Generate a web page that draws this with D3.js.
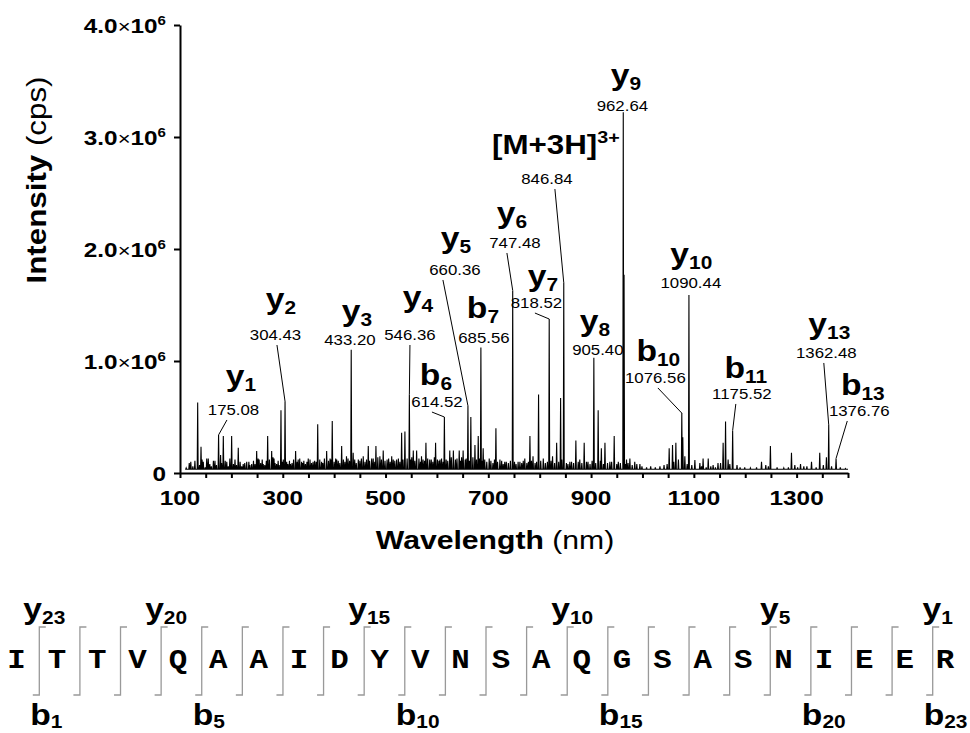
<!DOCTYPE html>
<html>
<head>
<meta charset="utf-8">
<title>MS/MS spectrum</title>
<style>
  body { margin: 0; background: #fff; font-family: Arial, "Liberation Sans", sans-serif; }
  svg text { fill: #000; }
  .spec { fill: none; stroke: #000; stroke-width: 1.1px; }
  .axis path, .axis line { stroke: #000; stroke-width: 2px; fill: none; }
  .conn { stroke: #000; stroke-width: 1px; }
  .cut { fill: none; stroke: #999; stroke-width: 1.3px; }
  .res { font-family: "Courier New", "Liberation Mono", monospace; font-weight: bold; font-size: 28px; }
</style>
</head>
<body>
<div id="chart"></div>
<script src="https://d3js.org/d3.v7.min.js"></script>
<script>
// axis ticks
var yTicks = [0, 1e6, 2e6, 3e6, 4e6];
var yTickLabels = ["0", "1.0", "2.0", "3.0", "4.0"];
var xTickLabels = [100, 300, 500, 700, 900, 1100, 1300];
var xMinorStep = 50;

// labelled fragment peaks [m/z, intensity]
var ionMz  = [175.08, 304.43, 433.20, 546.36, 614.52, 660.36, 685.56, 747.48, 818.52, 846.84, 905.40, 962.64, 1076.56, 1090.44, 1175.52, 1362.48, 1376.76];
var ionInt = [3.4e5, 6.4e5, 1.10e6, 7.0e5, 5.0e5, 6.0e5, 1.12e6, 1.63e6, 1.375e6, 1.70e6, 1.03e6, 3.22e6, 5.35e5, 1.59e6, 3.8e5, 4.3e5, 1.3e5];
var ionName = ["y", "y", "y", "y", "b", "y", "b", "y", "y", "[M+3H]", "y", "y", "b", "y", "b", "y", "b"];
var ionSub  = ["1", "2", "3", "4", "6", "5", "7", "6", "7", "", "8", "9", "10", "10", "11", "13", "13"];
var ionSup  = ["", "", "", "", "", "", "", "", "", "3+", "", "", "", "", "", "", ""];

// other peaks
var otherPeaks = [
  [134.4, 6.3e5], [140.9, 2.35e5], [145.3, 1.0e5], [152, 1.3e5], [158, 8e4], [168, 1.1e5], [179, 1.6e5],
  [184.3, 3.3e5], [191, 1.0e5], [200.5, 3.3e5], [207, 1.2e5], [213.4, 2.26e5], [223, 8e4], [229.8, 1.0e5],
  [239.5, 8e4], [249.2, 1.96e5], [254, 1.2e5], [262, 8e4], [270.6, 3.3e5], [278.4, 1.96e5], [283, 1.3e5],
  [288, 8e4], [296.5, 5.6e5], [307.6, 1.0e5], [315, 8e4], [325, 1.96e5], [330, 1.2e5], [336.7, 1.0e5],
  [349.6, 1.3e5], [359, 1.0e5], [368, 4.35e5], [375.6, 1.0e5], [385.4, 1.96e5], [392, 1.3e5], [396.3, 4.64e5],
  [405, 1.2e5], [414.6, 2.4e5], [424, 1.5e5], [437, 1.8e5], [447, 1.2e5], [456.6, 1.5e5], [466.4, 2.4e5],
  [473, 1.3e5], [481.3, 2.4e5], [489, 1.5e5], [495.5, 2.0e5], [503, 1.2e5], [512, 1.5e5], [521.6, 1.2e5],
  [531.3, 3.6e5], [537.7, 3.7e5], [554, 2.0e5], [560.5, 2.0e5], [570, 1.5e5], [578.6, 2.7e5], [586, 1.2e5],
  [597.4, 2.7e5], [606, 1.2e5], [625, 2.0e5], [632, 2.0e5], [643.4, 2.0e5], [651, 2.0e5], [666, 5.0e5],
  [674, 2.5e5], [680.4, 3.3e5], [690, 2.2e5], [701.8, 1.3e5], [714.8, 4.0e5], [722.6, 1.2e5], [732, 1.0e5],
  [761.5, 1.0e5], [771, 1.3e5], [781, 3.3e5], [787, 1.5e5], [797.8, 7.0e5], [807, 1.3e5], [825, 1.5e5],
  [833, 2.7e5], [840.7, 6.7e5], [858.7, 1.0e5], [870.4, 2.9e5], [878, 1.2e5], [886.6, 2.7e5], [894, 1.0e5],
  [913.8, 5.6e5], [920, 2.2e5], [927, 2.7e5], [936.6, 1.0e5], [945, 3.3e5], [953, 1.0e5], [964.2, 1.77e6],
  [969, 1.2e5], [975.5, 1.3e5], [985, 1.0e5], [995, 8e4], [1052, 2.2e5], [1058.5, 2.5e5], [1065, 2.7e5],
  [1078.5, 3.2e5], [1082.5, 1.5e5], [1102, 1.15e5], [1111.7, 9e4], [1118, 1.3e5], [1128, 1.3e5], [1137.5, 7e4],
  [1147, 9e4], [1157, 2.7e5], [1161.7, 4.6e5], [1166.7, 1.2e5], [1184, 7e4], [1199, 5e4], [1231.7, 1.0e5],
  [1240, 7e4], [1249, 2.4e5], [1290, 1.8e5], [1296.5, 7e4], [1307.6, 8e4], [1314, 6e4], [1329, 1.0e5],
  [1345, 1.8e5], [1358, 1.4e5]
];

// low-level noise peaks
var grass = [
  [112, 4.5e4], [118, 9e4], [121, 1.0e5], [125, 6e4], [129, 1.1e5], [138, 7e4], [143, 1.2e5], [149, 5e4],
  [155, 1.3e5], [161, 6e4], [165, 1.1e5], [171, 7e4], [181, 9e4], [188, 1.1e5], [194, 6e4], [197, 1.3e5],
  [204, 8e4], [210, 7e4], [217, 1.0e5], [220, 6e4], [226, 9e4], [234, 1.0e5], [236, 7e4], [243, 1.1e5],
  [246, 8e4], [252, 1.3e5], [257, 9e4], [260, 1.2e5], [265, 7e4], [268, 1.1e5], [274, 1.2e5], [281, 1.4e5],
  [285, 9e4], [291, 1.1e5], [293, 7e4], [299, 1.0e5], [301, 1.2e5], [310, 8e4], [313, 1.1e5], [318, 9e4],
  [321, 1.2e5], [328, 1.0e5], [333, 1.3e5], [339, 9e4], [341, 1.1e5], [344, 8e4], [347, 1.0e5], [353, 1.2e5],
  [356, 9e4], [362, 1.1e5], [365, 1.0e5], [372, 1.2e5], [378, 9e4], [381, 1.3e5], [389, 1.1e5], [394, 1.2e5],
  [400, 1.0e5], [403, 1.3e5], [408, 1.1e5], [411, 9e4], [418, 1.2e5], [421, 1.0e5], [427, 1.3e5], [430, 1.1e5],
  [440, 1.2e5], [443, 9e4], [450, 1.1e5], [453, 1.3e5], [460, 1.0e5], [463, 1.2e5], [469, 1.1e5], [476, 1.3e5],
  [479, 1.0e5], [485, 1.4e5], [492, 1.2e5], [499, 1.1e5], [506, 1.3e5], [509, 1.0e5], [515, 1.2e5], [518, 1.1e5],
  [525, 1.3e5], [528, 1.0e5], [534, 1.2e5], [542, 1.3e5], [549, 1.2e5], [551, 1.4e5], [557, 1.1e5], [565, 1.3e5],
  [568, 1.0e5], [573, 1.2e5], [576, 1.1e5], [582, 1.3e5], [589, 1.2e5], [592, 1.0e5], [595, 1.4e5], [601, 1.2e5],
  [604, 1.1e5], [609, 1.3e5], [612, 1.0e5], [618, 1.2e5], [621, 1.1e5], [628, 1.4e5], [636, 1.2e5], [639, 1.3e5],
  [646, 1.1e5], [648, 1.4e5], [655, 1.2e5], [657, 1.3e5], [663, 1.1e5], [670, 1.4e5], [677, 1.2e5], [683, 1.3e5],
  [688, 1.1e5], [693, 1.2e5], [697, 1.0e5], [705, 1.1e5], [709, 9e4], [712, 1.2e5], [718, 1.0e5], [726, 1.1e5],
  [729, 8e4], [735, 1.0e5], [739, 9e4], [743, 1.1e5], [751, 1.0e5], [754, 8e4], [758, 1.0e5], [765, 9e4],
  [768, 1.1e5], [775, 9e4], [778, 1.0e5], [784, 1.1e5], [791, 9e4], [794, 1.0e5], [802, 1.1e5], [811, 9e4],
  [815, 1.0e5], [822, 1.1e5], [829, 9e4], [837, 1.0e5], [843, 1.2e5], [852, 9e4], [855, 8e4], [862, 1.0e5],
  [866, 9e4], [875, 1.0e5], [882, 9e4], [891, 1.0e5], [898, 8e4], [902, 1.1e5], [909, 9e4], [918, 1.1e5],
  [924, 8e4], [932, 9e4], [940, 1.0e5], [950, 8e4], [957, 9e4], [967, 8e4], [972, 9e4], [980, 7e4],
  [989, 8e4], [999, 6e4], [1008, 5e4], [1016, 6e4], [1025, 5e4], [1034, 6e4], [1042, 7e4], [1048, 8e4],
  [1061, 1.0e5], [1070, 1.2e5], [1087, 8e4], [1096, 7e4], [1115, 6e4], [1124, 5e4], [1133, 6e4], [1142, 5e4],
  [1152, 9e4], [1170, 8e4], [1190, 5e4], [1210, 4.5e4], [1222, 5e4], [1245, 6e4], [1262, 5e4], [1275, 4.5e4],
  [1284, 5e4], [1302, 5e4], [1320, 6e4], [1338, 5e4], [1352, 7e4], [1368, 6e4], [1385, 5e4], [1395, 4e4]
];
var baseLevel = 3.3e4;
var specStart = 110, specEnd = 1400;

// where the ion labels sit, in data units: value text centre/baseline, name centre/baseline, leader start
var ionLabelAt = [
  {vx: 204.1, vy: 5.18e5, nx: 218.7, ny: 7.75e5, cx: 191.4},
  {vx: 285.8, vy: 1.1875e6, nx: 296.5, ny: 1.46e6, cx: 288.7},
  {vx: 430.7, vy: 1.143e6, nx: 444.4, ny: 1.355e6, cx: null},
  {vx: 547.5, vy: 1.1875e6, nx: 563.0, ny: 1.485e6, cx: 547.5},
  {vx: 600.0, vy: 5.89e5, nx: 598.1, ny: 7.9e5, cx: 590.3},
  {vx: 635.0, vy: 1.768e6, nx: 637.0, ny: 2.005e6, cx: 611.7},
  {vx: 691.4, vy: 1.161e6, nx: 689.5, ny: 1.38e6, cx: null},
  {vx: 751.8, vy: 2.009e6, nx: 745.9, ny: 2.235e6, cx: 736.2},
  {vx: 793.6, vy: 1.473e6, nx: 806.2, ny: 1.67e6, cx: 790.7},
  {vx: 814.0, vy: 2.580e6, nx: 831.5, ny: 2.845e6, cx: 829.6},
  {vx: 913.2, vy: 1.054e6, nx: 907.4, ny: 1.265e6, cx: null},
  {vx: 960.9, vy: 3.232e6, nx: 967.7, ny: 3.465e6, cx: null},
  {vx: 1025.1, vy: 8.04e5, nx: 1030.9, ny: 1.0e6, cx: 1030.0},
  {vx: 1094.2, vy: 1.652e6, nx: 1095.1, ny: 1.87e6, cx: null},
  {vx: 1193.4, vy: 6.61e5, nx: 1201.2, ny: 8.5e5, cx: 1181.7},
  {vx: 1357.8, vy: 1.027e6, nx: 1363.6, ny: 1.245e6, cx: 1352.9},
  {vx: 1422.0, vy: 5.09e5, nx: 1428.8, ny: 7.0e5, cx: 1398.6}
];

// peptide sequence and observed fragments
var residues = "ITTVQAAIDYVNSAQGSASNIEER".split("");
var yFrags = [23, 20, 15, 10, 5, 1];
var bFrags = [1, 5, 10, 15, 20, 23];

var width = 970, height = 733;
var SX = 1.16; // glyphs in the figure are a bit wider than Arial

var svg = d3.select("#chart").append("svg")
  .attr("width", width)
  .attr("height", height);

var x = d3.scaleLinear().domain([100, 1400]).range([180, 848]);
var y = d3.scaleLinear().domain([0, 4e6]).range([473, 25]);

function place(sel, px, py, rot) {
  return sel.attr("transform", "translate(" + px + "," + py + ")" + (rot ? " rotate(" + rot + ")" : "") + " scale(" + SX + ",1)");
}

// spectrum trace
var peaks = [];
ionMz.forEach(function(m, i) { peaks.push([m, ionInt[i]]); });
peaks = peaks.concat(otherPeaks, grass).sort(function(a, b) { return a[0] - b[0]; });
var hw = 0.9;
var pts = [[specStart, baseLevel]];
peaks.forEach(function(p) {
  pts.push([p[0] - hw, baseLevel], [p[0], p[1]], [p[0] + hw, baseLevel]);
});
pts.push([specEnd, baseLevel]);

var line = d3.line().x(function(d) { return x(d[0]); }).y(function(d) { return y(d[1]); });
svg.append("path").datum(pts).attr("class", "spec").attr("d", line);

// axes
var xAxis = d3.axisBottom(x)
  .tickValues(d3.range(100, 1401, xMinorStep))
  .tickSize(5).tickSizeOuter(0).tickFormat("");
svg.append("g").attr("class", "axis").attr("transform", "translate(0," + y(0) + ")").call(xAxis);

var yAxis = d3.axisLeft(y).tickValues(yTicks).tickSize(6).tickSizeOuter(0).tickFormat("");
svg.append("g").attr("class", "axis").attr("transform", "translate(" + x(100) + ",0)").call(yAxis);

// x tick labels
xTickLabels.forEach(function(v) {
  place(svg.append("text"), x(v), 505)
    .attr("text-anchor", "middle")
    .style("font-size", "21px").style("font-weight", "bold")
    .text(v);
});

// y tick labels
yTicks.forEach(function(v, i) {
  var t = place(svg.append("text"), 166, y(v) + 7.5)
    .attr("text-anchor", "end")
    .style("font-size", "21px").style("font-weight", "bold");
  if (v === 0) { t.text(yTickLabels[i]); return; }
  t.append("tspan").text(yTickLabels[i]);
  t.append("tspan").style("font-weight", "normal").style("font-size", "19px").text("\u00d7");
  t.append("tspan").text("10");
  t.append("tspan").attr("dy", -8).style("font-size", "13px").text("6");
});

// axis titles
var xt = place(svg.append("text"), 495, 549).attr("text-anchor", "middle").style("font-size", "26px");
xt.append("tspan").style("font-weight", "bold").text("Wavelength");
xt.append("tspan").text(" (nm)");

var yt = place(svg.append("text"), 46, 180, -90).attr("text-anchor", "middle").style("font-size", "27px");
yt.append("tspan").style("font-weight", "bold").text("Intensity");
yt.append("tspan").text(" (cps)");

// ion annotations
ionMz.forEach(function(m, i) {
  var a = ionLabelAt[i];
  if (a.cx !== null) {
    svg.append("line").attr("class", "conn")
      .attr("x1", x(a.cx)).attr("y1", y(a.vy) + 5)
      .attr("x2", x(m)).attr("y2", y(ionInt[i]));
  }
  place(svg.append("text"), x(a.vx), y(a.vy))
    .attr("text-anchor", "middle").style("font-size", "14.5px")
    .text(m.toFixed(2));
  var isM = ionSup[i] !== "";
  var t = place(svg.append("text"), x(a.nx), y(a.ny))
    .attr("text-anchor", "middle")
    .style("font-weight", "bold").style("font-size", isM ? "27px" : "29px");
  t.append("tspan").text(ionName[i]);
  if (ionSub[i]) t.append("tspan").attr("dy", 5).style("font-size", "18px").text(ionSub[i]);
  if (isM) t.append("tspan").attr("dy", -11).style("font-size", "17px").text(ionSup[i]);
});

// sequence panel
var seqX = d3.scaleLinear().domain([0, residues.length - 1]).range([16.5, 945]);
var cutX = d3.scaleLinear().domain([0, residues.length - 2]).range([39.3, 932.7]);

svg.selectAll(".res").data(residues).enter().append("text")
  .attr("class", "res")
  .attr("text-anchor", "middle")
  .attr("transform", function(d, i) { return "translate(" + seqX(i) + ",668) scale(1.1,1)"; })
  .text(function(d) { return d; });

svg.selectAll(".cut").data(d3.range(residues.length - 1)).enter().append("path")
  .attr("class", "cut")
  .attr("d", function(i) {
    var cx = cutX(i);
    return "M" + (cx + 6.5) + ",627H" + cx + "V695H" + (cx - 6.5);
  });

yFrags.forEach(function(n) {
  var t = place(svg.append("text"), cutX(residues.length - 1 - n) + 5, 619)
    .attr("text-anchor", "middle").style("font-weight", "bold").style("font-size", "29px");
  t.append("tspan").text("y");
  t.append("tspan").attr("dy", 5).style("font-size", "18px").text(n);
});
bFrags.forEach(function(n) {
  var t = place(svg.append("text"), cutX(n - 1) - 9, 725)
    .attr("text-anchor", "start").style("font-weight", "bold").style("font-size", "29px");
  t.append("tspan").text("b");
  t.append("tspan").attr("dy", 3).style("font-size", "18px").text(n);
});
</script>
</body>
</html>
